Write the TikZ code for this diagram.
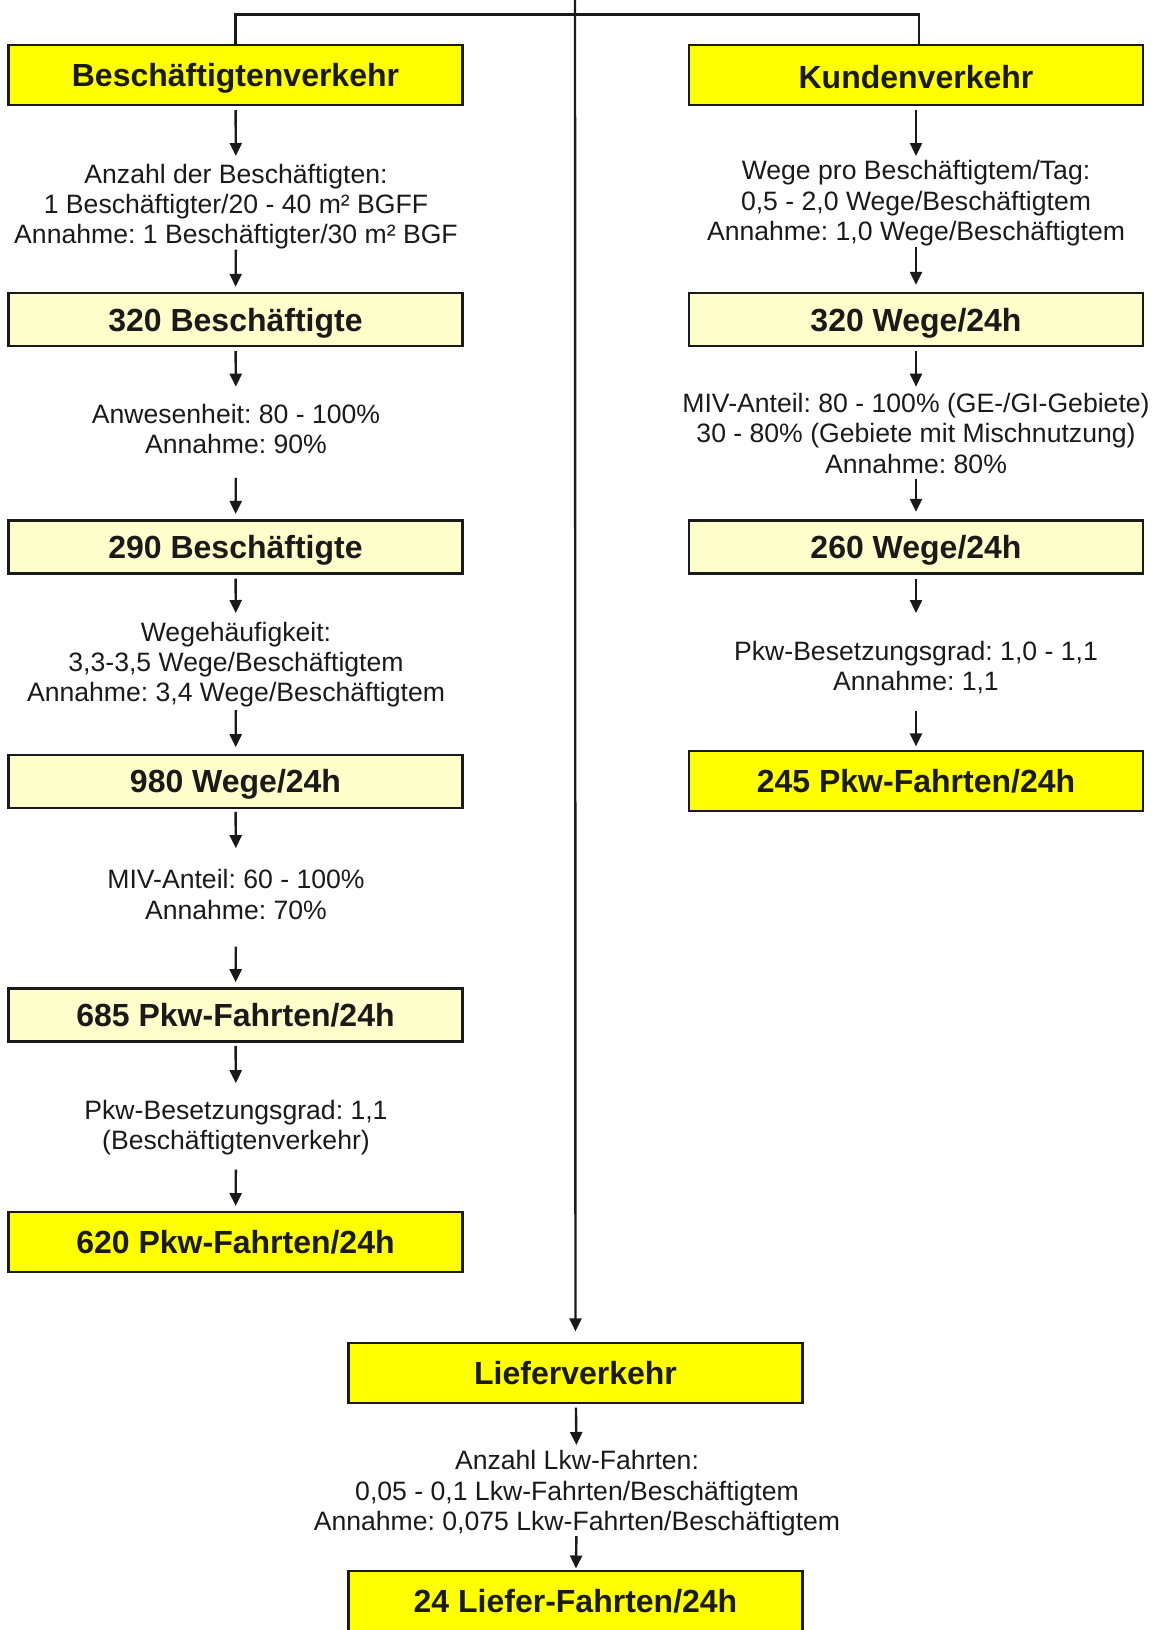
\documentclass[tikz,border=0pt]{standalone}
\usepackage{fontspec}
\setmainfont{Liberation Sans}
\usetikzlibrary{arrows.meta}
\definecolor{ink}{RGB}{26,26,26}
\definecolor{hiyel}{RGB}{255,255,0}
\definecolor{loyel}{RGB}{255,255,204}
\frenchspacing
\begin{document}
\begin{tikzpicture}[x=1pt,y=-1pt,
  box/.style={draw=ink, line width=2.4pt, minimum width=454pt, inner sep=0pt,
    text height=23pt, text depth=0pt, font=\fontsize{32}{36}\selectfont\bfseries, text=ink},
  hibox/.style={box, fill=hiyel, minimum height=60pt},
  lobox/.style={box, fill=loyel, minimum height=53pt},
  note/.style={align=center, inner sep=0pt, anchor=north,
    font=\fontsize{26.6}{30.2}\selectfont, text=ink},
  arr/.style={draw=ink, line width=2.4pt, -{Triangle[length=13pt,width=12pt]}},
  link/.style={draw=ink, line width=2.4pt}]
\useasboundingbox (0,0) rectangle (1158,1630);

% left column
\node[hibox] (b1) at (235.5,74.9) {Beschäftigtenverkehr};
\node[note] (n1) at (236,163.6) {Anzahl der Beschäftigten:\\1 Beschäftigter/20 - 40 m² BGFF\\Annahme: 1 Beschäftigter/30 m² BGF};
\node[lobox] (b2) at (235.5,319.5) {320 Beschäftigte};
\node[note] (n2) at (236,403.7) {Anwesenheit: 80 - 100\%\\Annahme: 90\%};
\node[lobox] (b3) at (235.5,546.8) {290 Beschäftigte};
\node[note] (n3) at (236,622) {Wegehäufigkeit:\\3,3-3,5 Wege/Beschäftigtem\\Annahme: 3,4 Wege/Beschäftigtem};
\node[lobox] (b4) at (235.5,781.2) {980 Wege/24h};
\node[note] (n4) at (236,869.4) {MIV-Anteil: 60 - 100\%\\Annahme: 70\%};
\node[lobox] (b5) at (235.5,1015.1) {685 Pkw-Fahrten/24h};
\node[note] (n5) at (236,1100.2) {Pkw-Besetzungsgrad: 1,1\\(Beschäftigtenverkehr)};
\node[hibox] (b6) at (235.5,1242.2) {620 Pkw-Fahrten/24h};

% right column
\node[hibox, text height=28pt] (k1) at (916,74.9) {Kundenverkehr};
\node[note] (m1) at (916,160.5) {Wege pro Beschäftigtem/Tag:\\0,5 - 2,0 Wege/Beschäftigtem\\Annahme: 1,0 Wege/Beschäftigtem};
\node[lobox] (k2) at (916,319.5) {320 Wege/24h};
\node[note] (m2) at (916,393.3) {MIV-Anteil: 80 - 100\% (GE-/GI-Gebiete)\\30 - 80\% (Gebiete mit Mischnutzung)\\Annahme: 80\%};
\node[lobox] (k3) at (916,546.8) {260 Wege/24h};
\node[note] (m3) at (916,640.7) {Pkw-Besetzungsgrad: 1,0 - 1,1\\Annahme: 1,1};
\node[hibox] (k4) at (916,780.7) {245 Pkw-Fahrten/24h};

% centre column
\coordinate (src) at (575,0);
\coordinate (split) at (575,14.6);
\node[hibox] (l1) at (575.5,1373) {Lieferverkehr};
\node[note] (c1) at (577,1450.5) {Anzahl Lkw-Fahrten:\\0,05 - 0,1 Lkw-Fahrten/Beschäftigtem\\Annahme: 0,075 Lkw-Fahrten/Beschäftigtem};
\node[hibox] (l2) at (575.5,1601) {24 Liefer-Fahrten/24h};

% top distribution
\draw[link] (b1.north) |- (split) -| ([xshift=3pt]k1.north);
\draw[arr, shorten >=10.4pt] (src) -- (l1);

% left arrows
\draw[arr, shorten <=4pt, shorten >=7.6pt] (b1) -- (n1);
\draw[arr, shorten <=0.5pt, shorten >=5pt] (n1) -- (b2);
\draw[arr, shorten <=4pt, shorten >=17pt] (b2) -- (n2);
\draw[arr, shorten <=24pt, shorten >=5.2pt] (n2) -- (b3);
\draw[arr, shorten <=4pt, shorten >=9pt] (b3) -- (n3);
\draw[arr, shorten <=2.6pt, shorten >=6.3pt] (n3) -- (b4);
\draw[arr, shorten <=3pt, shorten >=21.2pt] (b4) -- (n4);
\draw[arr, shorten <=27pt, shorten >=5.2pt] (n4) -- (b5);
\draw[arr, shorten <=3pt, shorten >=17pt] (b5) -- (n5);
\draw[arr, shorten <=14pt, shorten >=5pt] (n5) -- (b6);

% right arrows
\draw[arr, shorten <=4pt, shorten >=4.5pt] (k1) -- (m1);
\draw[arr, shorten <=0.5pt, shorten >=7pt] (m1) -- (k2);
\draw[arr, shorten <=4pt, shorten >=6.6pt] (k2) -- (m2);
\draw[arr, shorten <=5pt, shorten >=7.3pt] (m2) -- (k3);
\draw[arr, shorten <=4pt, shorten >=27.7pt] (k3) -- (m3);
\draw[arr, shorten <=16.8pt, shorten >=3.1pt] (m3) -- (k4);

% centre arrows
\draw[arr, shorten <=3.5pt, shorten >=5.5pt] (l1) -- (c1);
\draw[arr, shorten >=1.3pt] (c1) -- (l2);
\end{tikzpicture}
\end{document}
